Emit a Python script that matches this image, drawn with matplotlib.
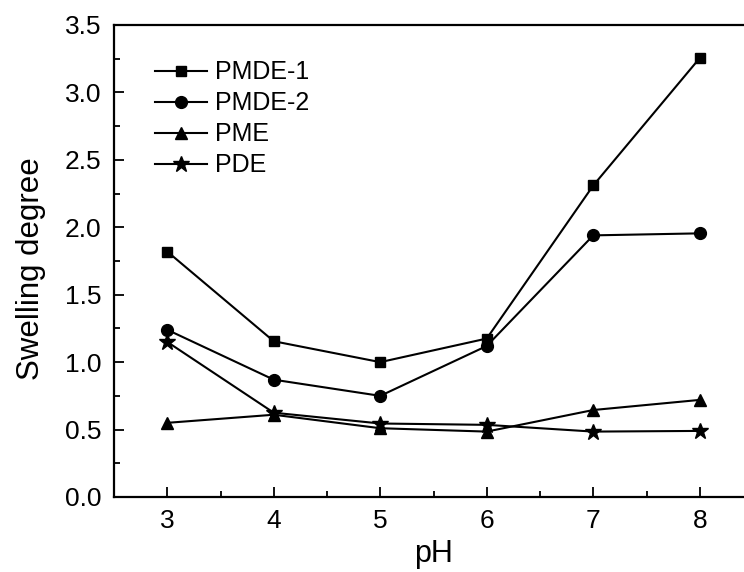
import matplotlib
matplotlib.use("Agg")
import matplotlib.pyplot as plt
from matplotlib.ticker import MultipleLocator

plt.rcParams['font.family'] = ['Liberation Sans', 'DejaVu Sans']

ph = [3, 4, 5, 6, 7, 8]
pmde1 = [1.82, 1.155, 1.00, 1.175, 2.31, 3.255]
pmde2 = [1.24, 0.87, 0.75, 1.12, 1.94, 1.955]
pme = [0.55, 0.61, 0.51, 0.485, 0.645, 0.72]
pde = [1.15, 0.625, 0.545, 0.535, 0.485, 0.49]
labels = ["PMDE-1", "PMDE-2", "PME", "PDE"]
markers = ["s", "o", "^", "*"]
msizes = [7.5, 8.5, 8.5, 12]

fig = plt.figure(figsize=(7.44, 5.72), dpi=100)
ax = fig.add_axes([114/744, 1 - 497/572, (753 - 114)/744, (497 - 25)/572])

for ys, lab, m, ms in zip([pmde1, pmde2, pme, pde], labels, markers, msizes):
    ax.plot(ph, ys, color='black', marker=m, markersize=ms, linewidth=1.5, label=lab)

ax.set_xlim(2.5, 8.5)
ax.set_ylim(0, 3.5)
ax.xaxis.set_major_locator(MultipleLocator(1))
ax.xaxis.set_minor_locator(MultipleLocator(0.5))
ax.yaxis.set_minor_locator(MultipleLocator(0.25))
ax.set_yticks([0, 0.5, 1.0, 1.5, 2.0, 2.5, 3.0, 3.5])
ax.set_yticklabels(["0.0", "0.5", "1.0", "1.5", "2.0", "2.5", "3.0", "3.5"])
ax.tick_params(which='major', direction='in', length=7, width=1.3, labelsize=19, pad=9)
ax.tick_params(which='minor', direction='in', length=4, width=1.3)
for s in ax.spines.values():
    s.set_linewidth(1.6)

ax.set_xlabel("pH", fontsize=22, labelpad=4)
ax.set_ylabel("Swelling degree", fontsize=22.5)
ax.yaxis.set_label_coords(-0.107, 0.483)

leg = ax.legend(loc='upper left', bbox_to_anchor=(0.064, 0.925), frameon=False, fontsize=18,
                handlelength=2.1, handletextpad=0.3, labelspacing=0.28, borderaxespad=0,
                borderpad=0)

fig.savefig("out.png", dpi=100)
